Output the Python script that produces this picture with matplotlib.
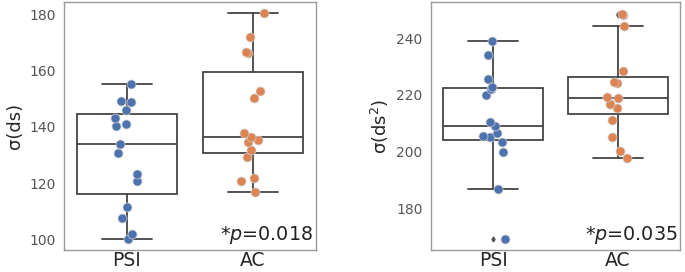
import matplotlib
matplotlib.use('Agg')
import matplotlib.pyplot as plt
import numpy as np
import seaborn as sns

groups = ['PSI', 'AC']

# sigma(ds)
ds_psi = [100.0, 101.9, 107.5, 111.6, 120.8, 123.1, 130.6, 133.9,
          140.5, 141.1, 143.1, 146.0, 149.0, 149.3, 155.2]
ds_ac = [116.7, 120.9, 121.7, 129.4, 131.8, 134.7, 135.3, 136.3,
         137.9, 150.4, 152.7, 166.2, 166.6, 171.9, 180.5]

# sigma(ds^2)
ds2_psi = [169.1, 186.7, 199.9, 203.2, 205.0, 205.4, 206.4, 208.9,
           210.5, 219.8, 222.2, 222.8, 225.5, 234.1, 238.9]
ds2_ac = [197.8, 200.2, 205.0, 211.1, 215.5, 216.7, 216.7, 218.7,
          219.3, 224.3, 224.4, 228.4, 244.1, 248.1, 248.6]

pvals = ['0.018', '0.035']
ylabels = [r'σ(ds)', r'σ(ds$^2$)']
ylims = [(96.2, 184.5), (165.3, 252.7)]
yticks = [[100, 120, 140, 160, 180], [180, 200, 220, 240]]

sns.set_style('white')
plt.rcParams['font.family'] = ['DejaVu Sans']
np.random.seed(3)

fig = plt.figure(figsize=(6.85, 2.72), dpi=100)
ax1 = fig.add_axes([64/685, 22/272, 252/685, 248/272])
ax2 = fig.add_axes([431/685, 22/272, 249/685, 248/272])

box_col = '#444444'
pal = ['#4C72B0', '#DD8452']

for ax, data, yl, lim, tks, p in zip([ax1, ax2], [[ds_psi, ds_ac], [ds2_psi, ds2_ac]],
                                      ylabels, ylims, yticks, pvals):
    ax.boxplot(data, positions=[0, 1], widths=0.8, patch_artist=True,
               boxprops=dict(facecolor='white', edgecolor=box_col, linewidth=1.3),
               medianprops=dict(color=box_col, linewidth=1.3),
               whiskerprops=dict(color=box_col, linewidth=1.3),
               capprops=dict(color=box_col, linewidth=1.3),
               flierprops=dict(marker='d', markerfacecolor='#555555', markeredgecolor='#555555',
                               markersize=2.5))
    for i, vals in enumerate(data):
        x = i + np.random.uniform(-0.1, 0.1, len(vals))
        ax.scatter(x, vals, s=42, color=pal[i], edgecolor='#d0d0d0', linewidth=0.5, zorder=3)
    ax.set_xlim(-0.5, 1.5)
    ax.set_ylim(*lim)
    ax.set_yticks(tks)
    ax.set_xticks([0, 1])
    ax.set_xticklabels(groups, fontsize=13.5)
    ax.tick_params(axis='y', labelsize=10, labelcolor='#555555', length=0, pad=6)
    ax.tick_params(axis='x', length=0, pad=1)
    ax.set_ylabel(yl, fontsize=13)
    for s in ax.spines.values():
        s.set_color('#999999')
        s.set_linewidth(1.0)
    ax.text(0.99, 0.015, '*$p$=' + p, transform=ax.transAxes, ha='right', va='bottom',
            fontsize=13.8, color='#222222')

fig.savefig('out.png', dpi=100)
